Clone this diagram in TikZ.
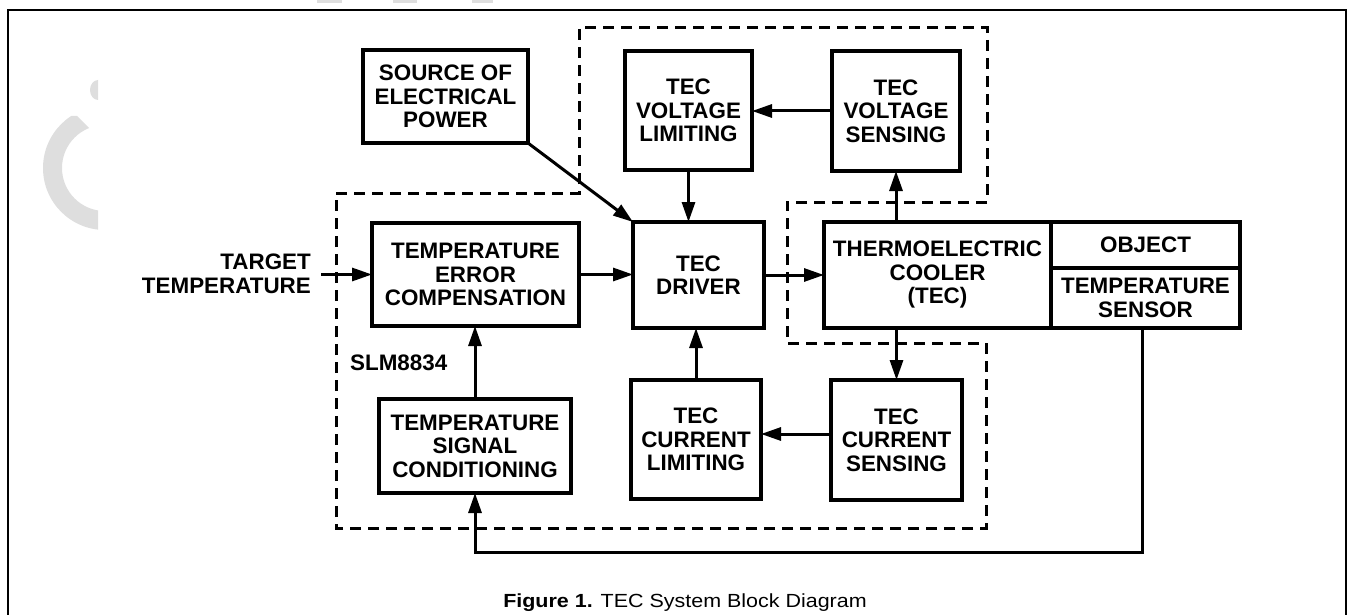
\documentclass[tikz,border=0pt]{standalone}
\usepackage{fontspec}
\setmainfont{Liberation Sans}
\usetikzlibrary{arrows.meta,calc}
\definecolor{wm}{RGB}{222,222,222}
\begin{document}
\begin{tikzpicture}[x=1pt,y=-1pt,
  lbl/.style={font=\fontsize{22.4}{23.5}\selectfont\bfseries, align=center, inner sep=0pt},
  box/.style={lbl, draw, line width=3.3pt, outer sep=0pt},
  arr/.style={line width=3pt, -{Triangle[length=20pt,width=13pt]}},
  region/.style={line width=3pt, dash pattern=on 11pt off 7pt},
  frame/.style={line width=2.2pt}]
\useasboundingbox (0,0) rectangle (1352,615);
% watermark remnants
\begin{scope}
  \clip (0,116) -- (77,116) -- (98,137) -- (98,240) -- (0,240) -- cycle;
  \fill[wm, even odd rule] (105,168) circle (62) (105,168) circle (43);
\end{scope}
\begin{scope}
  \clip (0,60) rectangle (98,110);
  \fill[wm] (98,90) ellipse (8 and 10);
\end{scope}
\fill[wm] (317,0) rectangle (342,3);
\fill[wm] (393,0) rectangle (417,3);
\fill[wm] (472,0) rectangle (493,3);
% frame
\draw[frame] (8,640) -- (8,10) -- (1346,10) -- (1346,640);
% dashed region
\draw[region] (336,193) -- (579,193) -- (579,28) -- (987,28) -- (987,202) -- (787,202)
  -- (787,343) -- (986,343) -- (986,528) -- (336,528) -- cycle;
% blocks
\node[box, minimum width=165pt, minimum height=93pt] (src) at (445.5,96.5) {SOURCE OF\\ELECTRICAL\\POWER};
\node[box, minimum width=127pt, minimum height=119pt] (vlim) at (688.5,110.5) {TEC\\VOLTAGE\\LIMITING};
\node[box, minimum width=128pt, minimum height=120pt] (vsens) at (896,111) {TEC\\VOLTAGE\\SENSING};
\node[box, minimum width=207pt, minimum height=103pt] (err) at (475.5,274.5) {TEMPERATURE\\ERROR\\COMPENSATION};
\node[box, minimum width=131pt, minimum height=106pt] (drv) at (698.5,275) {TEC\\DRIVER};
\node[box, minimum width=227pt, minimum height=106pt] (tec) at (937.5,275) {THERMOELECTRIC\\COOLER\\(TEC)};
\node[box, minimum width=189pt, minimum height=46pt] (obj) at (1145.5,245) {OBJECT};
\node[box, minimum width=189pt, minimum height=60pt] (sens) at (1145.5,298) {TEMPERATURE\\SENSOR};
\node[box, minimum width=130pt, minimum height=119pt] (clim) at (696,439.5) {TEC\\CURRENT\\LIMITING};
\node[box, minimum width=131pt, minimum height=120pt] (csens) at (896.5,440) {TEC\\CURRENT\\SENSING};
\node[box, minimum width=192pt, minimum height=94pt] (sig) at (475,446) {TEMPERATURE\\SIGNAL\\CONDITIONING};
% labels
\node[lbl, anchor=east, align=right] (tt) at (311,274) {TARGET\\TEMPERATURE};
\node[lbl, anchor=west] (slm) at (350,363) {SLM8834};
\node[font=\fontsize{19}{21}\selectfont, inner sep=0pt, anchor=base] (cap) at (685,607) {\scalebox{1.13}[1]{\textbf{Figure 1.} TEC System Block Diagram}};
% connectors
\coordinate (tin) at (321,274.5);
\coordinate (fb) at (1142,552);
\draw[arr] (tin) -- (err.west);
\draw[arr] (err.east) -- (err.east -| drv.west);
\draw[arr] (src.south east) -- (drv.north west);
\draw[arr] (vsens.west) -- (vsens.west -| vlim.east);
\draw[arr] (vlim.south) -- (vlim.south |- drv.north);
\draw[arr] (drv.east) -- (drv.east -| tec.west);
\draw[arr] (vsens.south |- tec.north) -- (vsens.south);
\draw[arr] (csens.north |- tec.south) -- (csens.north);
\draw[arr] ([yshift=6pt]csens.west) -- ([yshift=6pt]csens.west -| clim.east);
\draw[arr] (clim.north) -- (clim.north |- drv.south);
\draw[arr] (sig.north) -- (sig.north |- err.south);
\draw[arr] (sens.south -| fb) -- (fb) -| (sig.south);
\end{tikzpicture}
\end{document}
